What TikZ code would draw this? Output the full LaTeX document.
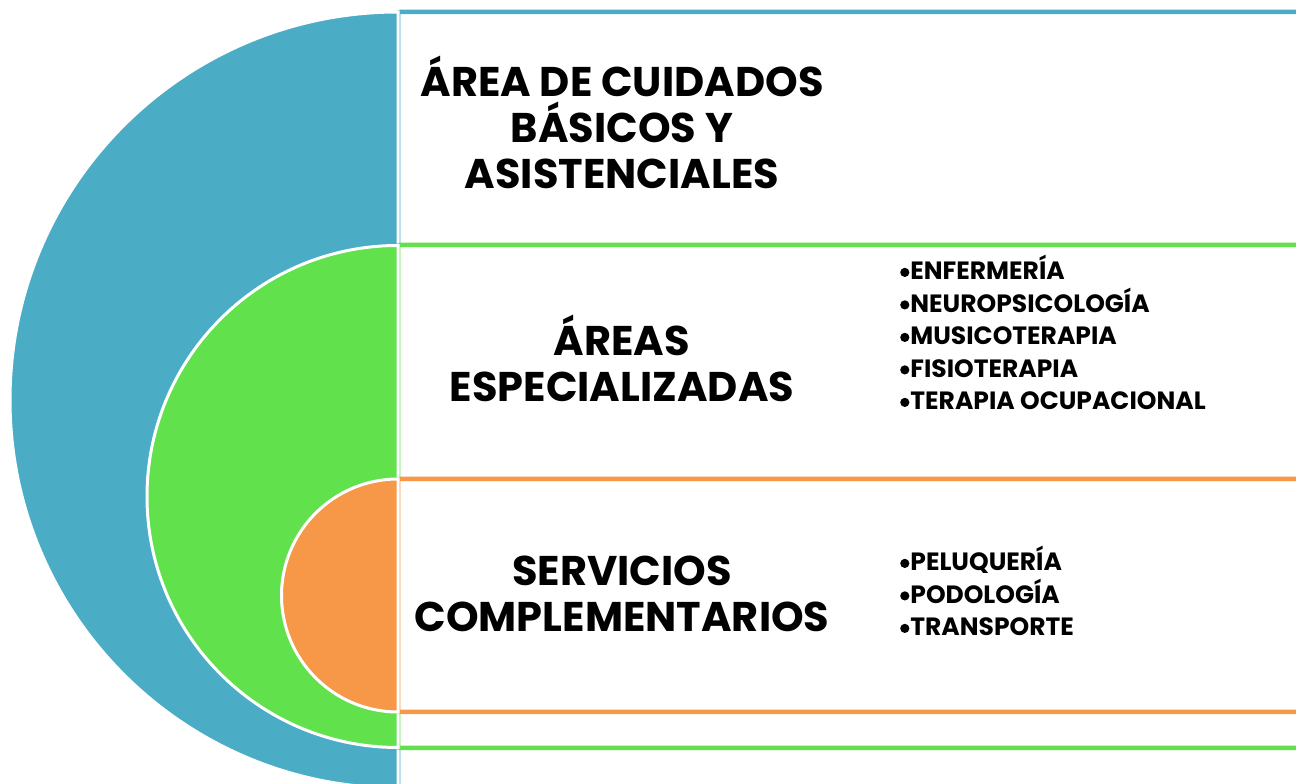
\documentclass[tikz,border=0pt]{standalone}
\usepackage{fontspec}
\setmainfont{Poppins}
\definecolor{cblue}{HTML}{4BACC6}
\definecolor{cgreen}{HTML}{61E14B}
\definecolor{corange}{HTML}{F79848}
\newcommand\mybul{\kern1pt\raisebox{2.6pt}{\tikz\fill (0,0) circle (4.6pt);}\kern1pt}
\begin{document}
\begin{tikzpicture}[x=1pt,y=1pt,
  band/.style={fill=white,line width=4.5pt},
  half/.style={draw=white,line width=3pt},
  title/.style={align=center,font=\bfseries\fontsize{41.5}{46}\selectfont,inner sep=0pt},
  items/.style={align=left,font=\bfseries\fontsize{25}{32.5}\selectfont,inner sep=0pt,anchor=north west}]
\useasboundingbox (0,0) rectangle (1296,784);
\clip (0,0) rectangle (1296,784);
% blue
\draw[band,draw=cblue,rounded corners=2pt] (398,-20) rectangle (1310,772);
\fill[cblue,half] (398,772) arc (90:270:388) -- cycle;
% green
\draw[band,draw=cgreen,rounded corners=2pt] (398,36) rectangle (1310,539);
\fill[cgreen,half] (398,538.5) arc (90:270:251) -- cycle;
% orange
\draw[band,draw=corange,rounded corners=2pt] (398,72) rectangle (1310,305);
\fill[corange,half] (398,305) arc (90:270:116.5) -- cycle;
% texts
\node[title] (t1) at (622,662) {ÁREA DE CUIDADOS\\BÁSICOS Y\\ASISTENCIALES};
\node[title] (t2) at (622,426) {ÁREAS\\ESPECIALIZADAS};
\node[title] (t3) at (622,190) {SERVICIOS\\COMPLEMENTARIOS};
\node[items] (l2) at (899,529) {\mybul ENFERMERÍA\\\mybul NEUROPSICOLOGÍA\\\mybul MUSICOTERAPIA\\\mybul FISIOTERAPIA\\\mybul TERAPIA OCUPACIONAL};
\node[items] (l3) at (899,238) {\mybul PELUQUERÍA\\\mybul PODOLOGÍA\\\mybul TRANSPORTE};
\end{tikzpicture}
\end{document}
